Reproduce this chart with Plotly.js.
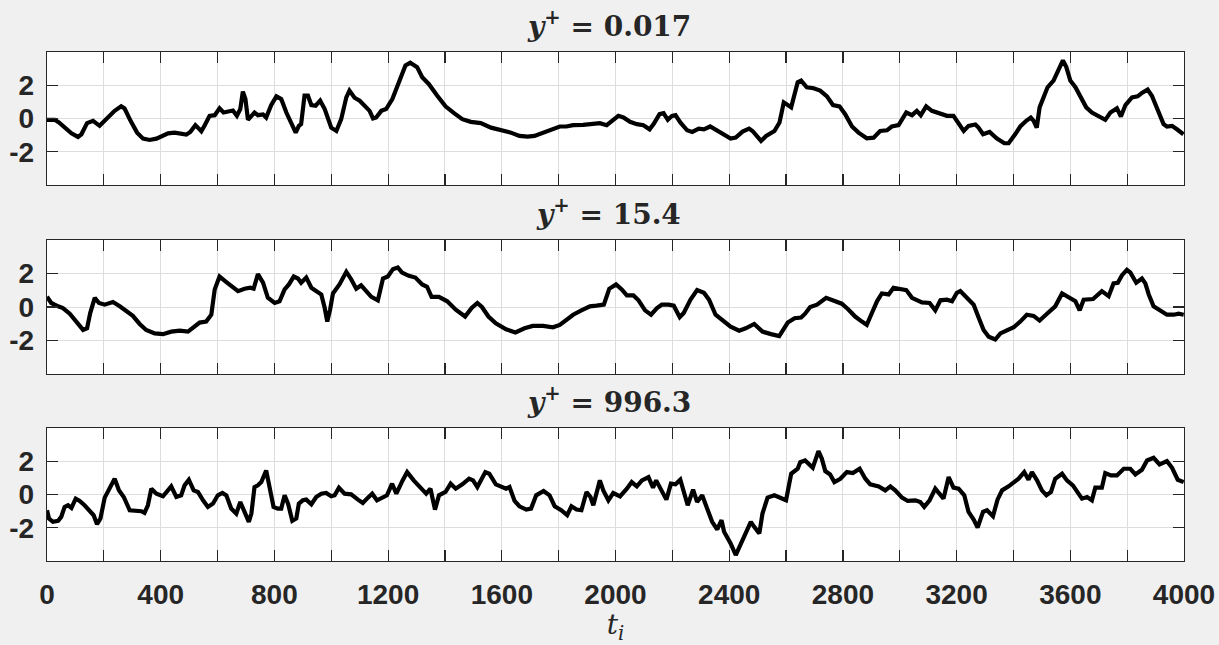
<!DOCTYPE html>
<html>
<head>
<meta charset="utf-8">
<script src="https://cdn.plot.ly/plotly-3.0.1.min.js"></script>
<style>html,body{margin:0;padding:0;background:#f0f0f0;}#chart{width:1219px;height:645px;}</style>
</head>
<body>
<div id="chart"></div>
<script>
// ---- Data ----
const panelTitles = ['<i>y</i><sup>+</sup> = 0.017', '<i>y</i><sup>+</sup> = 15.4', '<i>y</i><sup>+</sup> = 996.3'];
const xTickVals = [0,400,800,1200,1600,2000,2400,2800,3200,3600,4000];
const xTickText = ['0','400','800','1200','1600','2000','2400','2800','3200','3600','4000'];
const yTickVals = [-2, 0, 2];
const yTickText = ['-2', '0', '2'];

const t1 = [0,27,42,68,86,109,121,141,162,185,209,238,261,273,294,317,338,361,385,408,426,449,472,490,504,522,531,543,554,572,590,607,621,640,654,668,680,689,698,707,719,730,742,760,771,789,807,824,842,859,875,886,894,906,918,930,945,961,977,1000,1018,1035,1053,1064,1082,1100,1117,1135,1147,1158,1176,1193,1215,1234,
1261,1278,1302,1320,1343,1373,1402,1432,1461,1491,1526,1562,1603,1632,1662,1691,1715,1745,1774,1804,1827,1851,1886,1922,1945,1969,1992,2010,2028,2051,2075,2098,2120,2134,2155,2169,2184,2199,2211,2228,2252,2270,2293,2311,2333,2353,2376,2405,2423,2447,2470,2482,2512,2530,2559,2577,2592,2606,2618,2641,2653,
2673,2697,2720,2744,2765,2788,2808,2832,2855,2884,2908,2931,2955,2972,2996,3023,3043,3060,3074,3093,3113,3143,3166,3189,3207,3225,3242,3266,3277,3293,3316,3342,3368,3383,3406,3424,3445,3461,3471,3482,3492,3506,3520,3541,3559,3574,3586,3600,3618,3635,3656,3676,3700,3723,3741,3764,3778,3794,3817,3837,3852,3872,3887,3907,3928,3940,3958,3975,3998];
const y1 = [-0.08,-0.08,-0.24,-0.65,-0.89,-1.11,-0.95,-0.28,-0.14,-0.44,-0.04,0.46,0.73,0.6,-0.14,-0.85,-1.21,-1.29,-1.21,-1.05,-0.89,-0.85,-0.89,-0.97,-0.81,-0.40,-0.55,-0.77,-0.44,0.16,0.20,0.61,0.36,0.44,0.48,0.16,0.57,1.62,1.17,-0.08,0.16,0.36,0.2,0.24,0.06,0.81,1.33,1.17,0.36,-0.34,-0.85,-0.44,-0.34,1.37,1.37,0.81,0.77,1.07,0.57,-0.55,-0.75,-0.04,1.27,1.68,1.25,1.07,0.81,0.46,0,0.06,0.46,0.57,1.17,2.08,
3.19,3.35,3.09,2.48,2.08,1.37,0.73,0.32,-0.04,-0.2,-0.28,-0.55,-0.69,-0.85,-1.05,-1.09,-1.05,-0.85,-0.65,-0.48,-0.48,-0.40,-0.38,-0.34,-0.28,-0.40,-0.04,0.16,0.06,-0.2,-0.34,-0.4,-0.65,-0.34,0.26,0.32,-0.08,0.16,0.2,-0.24,-0.71,-0.81,-0.61,-0.65,-0.48,-0.69,-0.95,-1.21,-1.15,-0.79,-0.61,-0.75,-1.35,-1.05,-0.75,-0.24,0.97,0.77,0.67,2.18,2.28,
1.88,1.82,1.68,1.33,0.81,0.73,0.26,-0.48,-0.85,-1.19,-1.15,-0.75,-0.71,-0.48,-0.40,0.36,0.20,0.46,0.2,0.73,0.46,0.26,0.16,0.16,-0.34,-0.75,-0.44,-0.36,-0.55,-0.95,-0.81,-1.21,-1.49,-1.49,-0.95,-0.48,-0.14,0.06,-0.14,-0.55,0.67,1.27,1.88,2.28,2.99,3.49,3.09,2.28,1.88,1.37,0.67,0.36,0.12,-0.08,0.36,0.61,0.12,0.81,1.27,1.33,1.54,1.74,1.37,0.46,-0.34,-0.48,-0.44,-0.65,-0.95];

const t2 = [0,15,39,56,80,103,127,141,152,168,183,203,232,256,279,302,326,349,379,408,437,467,496,519,537,560,578,590,607,631,651,672,695,715,727,742,760,777,801,818,836,851,868,883,894,912,930,947,965,977,986,996,1006,1029,1053,1070,1088,1105,1123,1141,1164,1182,1199,1217,1234,
1249,1273,1296,1320,1337,1353,1379,1408,1438,1471,1494,1514,1530,1553,1579,1615,1648,1680,1709,1745,1780,1804,1827,1851,1880,1910,1933,1959,1978,2002,2022,2040,2063,2081,2104,2125,2146,2163,2187,2205,2226,2240,2264,2287,2311,2329,2352,2376,2405,2435,2458,2488,2517,2547,2576,2606,2630,2653,
2667,2685,2709,2741,2767,2796,2820,2843,2867,2884,2902,2920,2937,2961,2978,3002,3023,3043,3060,3078,3105,3125,3143,3166,3184,3201,3213,3236,3260,3277,3295,3313,3336,3354,3377,3401,3424,3447,3471,3492,3518,3547,3571,3594,3618,3633,3647,3680,3700,3711,3735,3752,3767,3782,3799,3811,3832,3852,3864,3876,3893,3917,3940,3964,3981,3999];
const y2 = [0.61,0.24,0.04,-0.06,-0.4,-0.87,-1.37,-1.27,-0.36,0.55,0.24,0.14,0.30,0.04,-0.26,-0.53,-1.01,-1.37,-1.58,-1.62,-1.47,-1.41,-1.47,-1.13,-0.93,-0.87,-0.46,1.05,1.82,1.49,1.25,0.95,1.09,1.15,1.09,1.96,1.45,0.55,0.24,0.34,1.05,1.35,1.82,1.70,1.45,1.76,1.15,0.95,0.75,-0.06,-0.87,-0.16,0.81,1.35,2.10,1.66,1.09,1.29,0.95,0.61,0.40,1.70,1.82,2.26,2.36,
2.06,1.86,1.76,1.35,1.21,0.61,0.61,0.34,-0.16,-0.57,-0.06,0.24,0,-0.57,-0.97,-1.33,-1.52,-1.27,-1.13,-1.13,-1.21,-1.07,-0.77,-0.46,-0.20,0.04,0.08,0.14,1.09,1.35,1.05,0.69,0.69,0.40,-0.20,-0.46,-0.06,0.14,0.14,0.08,-0.61,-0.36,0.44,1.01,0.85,0.44,-0.46,-0.77,-1.17,-1.41,-1.27,-1.01,-1.47,-1.62,-1.74,-0.93,-0.67,-0.63,
-0.40,0,0.14,0.55,0.40,0.20,-0.16,-0.57,-0.87,-1.07,-0.36,0.34,0.81,0.75,1.15,1.09,1.01,0.55,0.40,0.28,0.24,-0.20,0.40,0.44,0.34,0.85,0.95,0.55,0.14,-0.61,-1.37,-1.78,-1.94,-1.58,-1.37,-1.21,-0.87,-0.46,-0.53,-0.81,-0.40,0.04,0.81,0.61,0.34,-0.20,0.44,0.48,0.75,0.95,0.65,1.41,1.45,1.90,2.22,2.06,1.45,1.70,1.41,0.75,0.04,-0.20,-0.46,-0.46,-0.40,-0.46];

const t3 = [0,7,21,39,50,62,74,86,101,115,132,150,164,176,188,203,220,238,253,270,291,314,332,343,355,367,385,408,426,437,455,472,484,499,516,531,549,566,584,601,617,631,648,666,680,695,710,719,730,742,754,771,785,797,812,824,836,848,863,877,886,900,912,930,947,965,982,1000,1012,1027,1047,1070,1094,1111,1129,1144,1161,1182,1196,1214,1229,
1251,1267,1290,1314,1334,1349,1365,1379,1402,1420,1438,1461,1485,1499,1514,1542,1556,1579,1597,1615,1627,1645,1662,1686,1703,1721,1747,1768,1786,1809,1830,1845,1863,1880,1898,1912,1922,1933,1945,1957,1975,1992,2016,2040,2057,2075,2093,2116,2132,2143,2163,2179,2195,2211,2228,2240,2254,2273,2287,2305,2320,2340,2358,2373,2382,2405,2423,2441,2458,2476,2488,2506,2517,2535,2559,2571,2600,2618,2641,
2650,2667,2694,2714,2726,2738,2755,2770,2791,2814,2835,2859,2879,2896,2926,2949,2967,2984,3008,3028,3055,3072,3086,3105,3125,3143,3154,3172,3189,3207,3227,3242,3260,3274,3293,3307,3328,3344,3360,3383,3406,3418,3438,3453,3465,3483,3500,3516,3532,3547,3571,3588,3609,3623,3641,3659,3676,3688,3711,3723,3743,3764,3788,3811,3829,3852,3870,3893,3914,3940,3958,3978,3999];
const y3 = [-0.94,-1.44,-1.64,-1.58,-1.34,-0.74,-0.64,-0.80,-0.24,-0.38,-0.64,-0.94,-1.24,-1.78,-1.44,-0.18,0.42,0.96,0.26,-0.14,-0.94,-0.98,-1.00,-1.10,-0.64,0.36,0.06,-0.10,0.26,0.50,-0.14,-0.04,0.56,0.90,0.26,0.16,-0.34,-0.74,-0.54,-0.04,0.10,-0.04,-0.84,-1.14,-0.44,-1.04,-1.64,-1.14,0.46,0.56,0.76,1.46,0.36,-0.74,-0.84,-0.84,-0.04,-0.54,-1.58,-1.44,-0.54,-0.34,-0.30,-0.58,-0.14,0.06,0.10,-0.10,-0.04,0.42,0.06,0.02,-0.30,-0.50,-0.18,0.06,-0.34,-0.18,-0.04,0.66,0.06,
0.86,1.36,0.86,0.46,0.06,0.36,-0.90,-0.04,0.16,0.66,0.36,0.62,0.96,0.86,0.46,1.36,1.26,0.62,0.50,0.36,0.46,-0.38,-0.70,-0.90,-0.84,-0.04,0.22,-0.04,-0.70,-0.94,-1.24,-0.70,-0.90,-0.94,0.16,-0.14,-0.64,0.16,0.86,0.26,-0.34,0.10,-0.10,0.36,0.76,0.50,0.86,1.06,0.42,0.86,0.26,-0.30,0.66,0.62,0.90,0.16,-0.64,0.30,-0.44,-0.04,-0.74,-1.64,-2.10,-1.54,-2.24,-2.94,-3.64,-2.98,-2.34,-1.64,-1.94,-2.34,-1.14,-0.18,-0.04,-0.14,-0.34,1.26,1.56,
1.96,2.06,1.62,2.62,2.16,1.42,1.22,0.76,0.96,1.36,1.30,1.56,0.96,0.62,0.50,0.26,0.50,0.26,-0.18,-0.38,-0.34,-0.44,-0.74,-0.34,0.36,-0.04,-0.24,1.06,0.42,0.36,-0.04,-1.04,-1.50,-1.98,-1.04,-0.94,-1.30,-0.30,0.26,0.50,0.76,0.96,1.36,0.90,1.36,0.86,0.26,-0.04,0.16,0.96,1.26,0.86,0.56,0.16,-0.24,-0.14,-0.34,0.42,0.42,1.30,1.16,1.16,1.56,1.56,1.22,1.50,2.06,2.22,1.82,2.02,1.62,0.90,0.76];

// ---- Chart ----
const series = [[t1, y1], [t2, y2], [t3, y3]];
const axisSuffix = ['', '2', '3'];
const domains = [[0.7387, 1.0], [0.3674, 0.6306], [0.0, 0.2607]];
const dark = '#262626';
const gridc = '#dddddd';

const traces = series.map((s, i) => ({
  x: s[0], y: s[1], type: 'scatter', mode: 'lines',
  xaxis: 'x' + axisSuffix[i], yaxis: 'y' + axisSuffix[i],
  line: {color: '#000000', width: 4.2}, hoverinfo: 'skip', showlegend: false
}));

const layout = {
  width: 1219, height: 645,
  paper_bgcolor: '#f0f0f0', plot_bgcolor: '#ffffff',
  margin: {l: 47, r: 35, t: 52, b: 84, pad: 0},
  showlegend: false,
  annotations: []
};

for (let i = 0; i < 3; i++) {
  const sfx = axisSuffix[i];
  layout['xaxis' + sfx] = {
    domain: [0, 1], anchor: 'y' + sfx, range: [0, 4000],
    tickmode: 'array', tickvals: xTickVals, ticktext: xTickText,
    showticklabels: i === 2,
    ticks: 'inside', ticklen: 11, tickwidth: 1.2, tickcolor: dark,
    showline: true, linecolor: dark, linewidth: 1.2, mirror: 'ticks',
    showgrid: true, gridcolor: gridc, gridwidth: 1, zeroline: false,
    minor: {dtick: 200, tick0: 0, ticks: 'inside', ticklen: 11, tickwidth: 1.2, tickcolor: dark,
            showgrid: true, gridcolor: gridc, gridwidth: 1},
    tickfont: {family: 'Liberation Sans, Arial, sans-serif', size: 28, color: dark, weight: 'bold'},
    ticklabelstandoff: 8
  };
  layout['yaxis' + sfx] = {
    domain: domains[i], anchor: 'x' + sfx, range: [-4, 4],
    tickmode: 'array', tickvals: yTickVals, ticktext: yTickText,
    ticks: 'inside', ticklen: 11, tickwidth: 1.2, tickcolor: dark,
    showline: true, linecolor: dark, linewidth: 1.2, mirror: 'ticks',
    showgrid: true, gridcolor: gridc, gridwidth: 1, zeroline: false,
    tickfont: {family: 'Liberation Sans, Arial, sans-serif', size: 28, color: dark, weight: 'bold'},
    ticklabelstandoff: 6
  };
  layout.annotations.push({
    text: '<b>' + panelTitles[i] + '</b>',
    xref: 'paper', yref: 'paper', x: 0.494, y: domains[i][1],
    xanchor: 'center', yanchor: 'bottom', yshift: 7, showarrow: false,
    font: {family: 'DejaVu Serif, serif', size: 28, color: dark}
  });
}
layout.xaxis3.title = {
  text: '<i>t</i><sub><i>i</i></sub>',
  font: {family: 'DejaVu Serif, serif', size: 28, color: dark},
  standoff: 2
};

Plotly.newPlot('chart', traces, layout, {displayModeBar: false, staticPlot: true});
</script>
</body>
</html>
